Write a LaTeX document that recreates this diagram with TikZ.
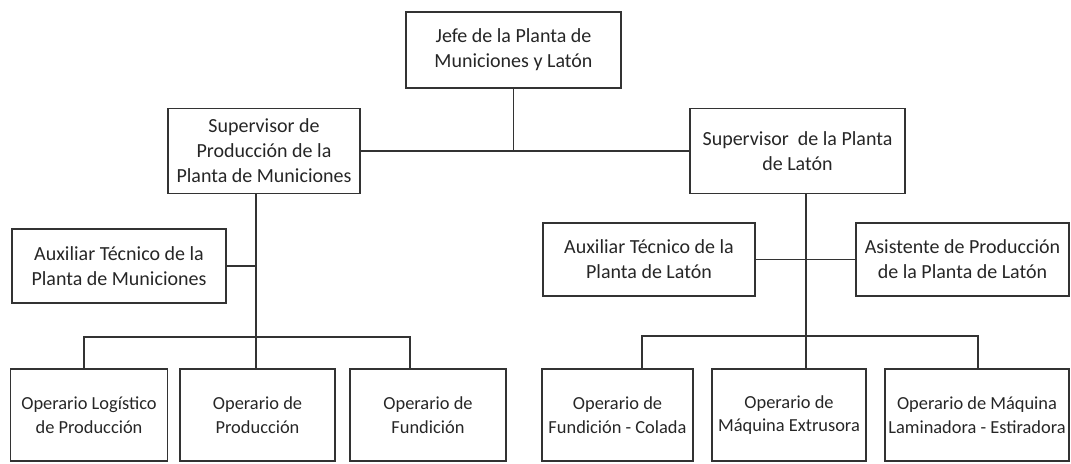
\documentclass[tikz,border=0pt]{standalone}
\usepackage{fontspec}
\setmainfont{Carlito}
\begin{document}
\begin{tikzpicture}[x=0.5pt,y=-0.5pt,
  puesto/.style={draw=black!80, line width=0.6pt, align=center, inner sep=0pt,
                 font=\fontsize{10}{12.5}\selectfont, text=black!85},
  operario/.style={puesto, font=\fontsize{9.2}{11.8}\selectfont},
  linea/.style={draw=black!80, line width=0.6pt}]

\useasboundingbox (0,0) rectangle (1071,463);
\clip (0,0) rectangle (1071,463);

% jefatura y supervisores
\node[puesto, minimum width=107.5pt, minimum height=38pt] (jefe) at (513.5,50) {Jefe de la Planta de\\Municiones y Latón};
\node[puesto, minimum width=96pt, minimum height=42.5pt] (supm) at (264,151) {Supervisor de\\Producción de la\\Planta de Municiones};
\node[puesto, minimum width=107.5pt, minimum height=42.5pt] (supl) at (797.5,151) {Supervisor~ de la Planta\\de Latón};

% auxiliares
\node[puesto, minimum width=107pt, minimum height=37pt] (auxm) at (119,266) {Auxiliar Técnico de la\\Planta de Municiones};
\node[puesto, minimum width=106pt, minimum height=36.5pt] (auxl) at (649,259.5) {Auxiliar Técnico de la\\Planta de Latón};
\node[puesto, minimum width=106.5pt, minimum height=36.5pt] (asis) at (962.5,259.5) {Asistente de Producción\\de la Planta de Latón};

% operarios
\foreach \n/\cx/\w/\txt in {opl/89/78.5/{Operario Logístico\\de Producción},
                           opp/257.5/77.5/{Operario de\\Producción},
                           opf/428/78/{Operario de\\Fundición},
                           ofc/617.5/75.5/{Operario de\\Fundición - Colada},
                           ome/789/77/{Operario de\\Máquina Extrusora},
                           olm/977/92/{Operario de Máquina\\Laminadora - Estiradora}}{%
  \node[operario, minimum width=\w pt, minimum height=46pt] (\n) at (\cx,415) {\txt};
}

\coordinate (busm) at (256,337);
\coordinate (busl) at (806,336);

% lineas
\draw[linea] (jefe.south) -- (jefe.south |- supm.east);
\draw[linea] (supm.east) -- (supl.west);

\draw[linea] (busm |- supm.south) -- (busm);
\draw[linea] (auxm.east) -- (auxm.east -| busm);
\draw[linea] ([xshift=-2.5pt]opl.north) |- ([xshift=-9pt]opf.north |- busm) -- ([xshift=-9pt]opf.north);
\draw[linea] (busm) -- (busm |- opp.north);

\draw[linea] (busl |- supl.south) -- (busl);
\draw[linea] (auxl.east) -- (asis.west);
\draw[linea] ([xshift=12.25pt]ofc.north) |- ([xshift=0.5pt]olm.north |- busl) -- ([xshift=0.5pt]olm.north);
\draw[linea] (busl) -- (busl |- ome.north);

\end{tikzpicture}
\end{document}
